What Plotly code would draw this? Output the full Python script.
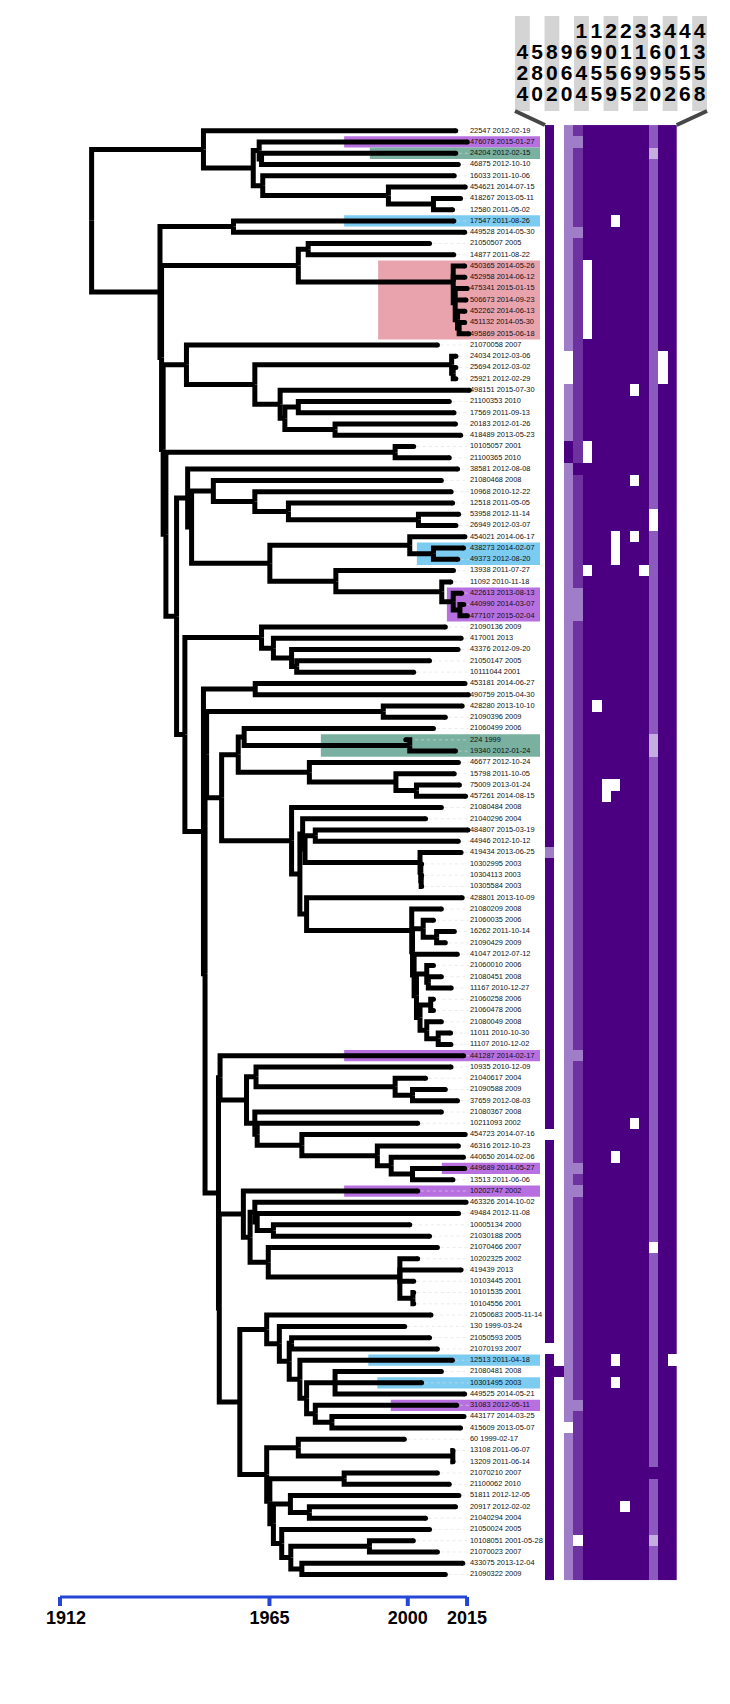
import plotly.graph_objects as go
import datetime

# ---------------- data ----------------
LEAF_LABELS = [
    "22547 2012-02-19", "476078 2015-01-27", "24204 2012-02-15", "46875 2012-10-10",
    "16033 2011-10-06", "454621 2014-07-15", "418267 2013-05-11", "12580 2011-05-02",
    "17547 2011-08-26", "449528 2014-05-30", "21050507 2005", "14877 2011-08-22",
    "450365 2014-05-26", "452958 2014-06-12", "475341 2015-01-15", "506673 2014-09-23",
    "452262 2014-06-13", "451132 2014-05-30", "495869 2015-06-18", "21070058 2007",
    "24034 2012-03-06", "25694 2012-03-02", "25921 2012-02-29", "498151 2015-07-30",
    "21100353 2010", "17569 2011-09-13", "20183 2012-01-26", "418489 2013-05-23",
    "10105057 2001", "21100365 2010", "38581 2012-08-08", "21080468 2008",
    "10968 2010-12-22", "12518 2011-05-05", "53958 2012-11-14", "26949 2012-03-07",
    "454021 2014-06-17", "438273 2014-02-07", "49373 2012-08-20", "13938 2011-07-27",
    "11092 2010-11-18", "422613 2013-08-13", "440990 2014-03-07", "477107 2015-02-04",
    "21090136 2009", "417001 2013", "43376 2012-09-20", "21050147 2005",
    "10111044 2001", "453181 2014-06-27", "490759 2015-04-30", "428280 2013-10-10",
    "21090396 2009", "21060499 2006", "224 1999", "19340 2012-01-24",
    "46677 2012-10-24", "15798 2011-10-05", "75009 2013-01-24", "457261 2014-08-15",
    "21080484 2008", "21040296 2004", "484807 2015-03-19", "44946 2012-10-12",
    "419434 2013-06-25", "10302995 2003", "10304113 2003", "10305584 2003",
    "428801 2013-10-09", "21080209 2008", "21060035 2006", "16262 2011-10-14",
    "21090429 2009", "41047 2012-07-12", "21060010 2006", "21080451 2008",
    "11167 2010-12-27", "21060258 2006", "21060478 2006", "21080049 2008",
    "11011 2010-10-30", "11107 2010-12-02", "441287 2014-02-17", "10935 2010-12-09",
    "21040617 2004", "21090588 2009", "37659 2012-08-03", "21080367 2008",
    "10211093 2002", "454723 2014-07-16", "46316 2012-10-23", "440650 2014-02-06",
    "449689 2014-05-27", "13513 2011-06-06", "10202747 2002", "463326 2014-10-02",
    "49484 2012-11-08", "10005134 2000", "21030188 2005", "21070466 2007",
    "10202325 2002", "419439 2013", "10103445 2001", "10101535 2001",
    "10104556 2001", "21050683 2005-11-14", "130 1999-03-24", "21050593 2005",
    "21070193 2007", "12513 2011-04-18", "21080481 2008", "10301495 2003",
    "449525 2014-05-21", "31083 2012-05-11", "443177 2014-03-25", "415609 2013-05-07",
    "60 1999-02-17", "13108 2011-06-07", "13209 2011-06-14", "21070210 2007",
    "21100062 2010", "51811 2012-12-05", "20917 2012-02-02", "21040294 2004",
    "21050024 2005", "10108051 2001-05-28", "21070023 2007", "433075 2013-12-04",
    "21090322 2009",
]

# time tree: leaves by sample id, internal nodes labelled with their date (years)
TREE_NEWICK = (
    "("
    "(22547,((476078,(24204,46875)1963.0)1962.4,(16033,(454621,(418267,12580)2006.5)1995.1)1963.3)1960.9)1948.3,"
    "((17547,449528)1955.9,"
    "(((21050507,14877)1974.8,(450365,452958,(475341,506673,(452262,(451132,495869)2013.0)2012.6)2012.0)2011.5)1972.3,"
    "((21070058,((24034,(25694,25921)2011.5)2011.1,(498151,((21100353,17569)1972.3,(20183,418489)1981.6)1968.9)1967.7)1961.3)1944.0,"
    "((10105057,21100365)1996.8,"
    "("
    "(38581,((21080468,(10968,(12518,(53958,26949)2002.7)1969.8)1961.3)1950.8,"
    "((454021,(438273,49373)2006.5)2000.5,(13938,(11092,(422613,(440990,477107)2013.2)2011.5)2008.6)1981.8)1965.1)1945.3)1944.3,"
    "((21090136,(417001,(43376,(21050147,10111044)1971.9)1970.6)1966.0)1963.0,"
    "((453181,490759)1961.4,"
    "(((428280,21090396)1993.8,"
    "(((21060499,(224,19340)2000.5)1958.6,(46677,(15798,(75009,457261)2002.2)1997.0)1975.1)1957.1,"
    "(21080484,((21040296,((484807,44946)1976.6,(419434,(10302995,(10304113,10305584)2003.4)2003.3)2003.1)1974.0)1973.4,"
    "(428801,(21080209,((21060035,(16262,21090429)2007.3)2003.9,"
    "(41047,((21060010,(21080451,11167)2005.2)2004.8,((21060258,21060478)2005.8,(21080049,(11011,11107)2007.7)2004.8)2003.1)2002.2)2001.6)2001.2)2001.0)1974.4)1972.7)1970.6)1952.9)1949.1,"
    "((441287,((10935,(21040617,(21090588,37659)2001.2)1996.8)1961.6,"
    "(21080367,(10211093,(454723,(46316,(440650,(449689,13513)2001.2)1995.8)1992.3)1973.2)1961.9)1961.3)1959.2)1952.5,"
    "((10202747,((463326,(49484,(10005134,21030188)1966.0)1961.9)1961.3,(21070466,(10202325,419439,10103445,(10101535,10104556)2001.3)1998.0)1964.7)1960.1)1958.4,"
    "((21050683,(130,((21050593,21070193)1970.6,(12513,((21080481,10301495,449525)1981.6,(31083,(443177,415609)1980.8)1976.6)1974.4)1972.7)1970.0)1967.5)1964.3,"
    "((60,(13108,13209)2011.4)1972.3,((21070210,21100062)1983.9,((51811,(20917,21040294)1975.1)1970.3,"
    "(21050024,((10108051,21070023)1990.3,(433075,21090322)1973.2)1970.4)1968.1)1966.0)1965.1)1964.3)1957.5)1952.3)1952.1"
    ")1948.7)1948.3)1943.6)1941.5)1938.8)1938.1)1937.7)1937.3"
    ")1920.0"
)

HIGHLIGHTS = [  # (leaf ids, start year, colour key)
    (["476078"], 1983.9, "purple"),
    (["24204"], 1990.4, "green"),
    (["17547"], 1983.9, "blue"),
    (["450365", "452958", "475341", "506673", "452262", "451132", "495869"], 1992.5, "pink"),
    (["438273", "49373"], 2002.3, "blue"),
    (["422613", "440990", "477107"], 2009.9, "purple"),
    (["224", "19340"], 1978.0, "green"),
    (["441287"], 1983.9, "purple"),
    (["449689"], 2008.6, "purple"),
    (["10202747"], 1983.9, "purple"),
    (["12513"], 1990.0, "blue"),
    (["10301495"], 1992.3, "blue"),
    (["31083"], 1995.7, "purple"),
]
HIGHLIGHT_COLORS = {"purple": "#b870e0", "green": "#79b0a0", "blue": "#7ccbf0", "pink": "#e9a3ad"}

HEADER_LABELS = ["424", "580", "802", "960", "1644", "1955", "2059", "2165",
                 "3192", "3690", "4052", "4156", "4358"]
AXIS_YEARS = [1912, 1965, 2000, 2015]

# heatmap levels: 0 missing, 1 very light, 2 light, 3 lavender, 4 medium, 5 dark
LEVEL_COLORS = ["#ffffff", "#c4aee0", "#a07dc8", "#8c5abe", "#6e32a0", "#4b0082"]
COLUMN_DEFAULTS = [5, 0, 2, 4, 5, 5, 5, 5, 5, 5, 5, 3, 5, 5]
CELL_OVERRIDES = [  # (row, column, level)
    (1, 3, 2), (2, 11, 1), (8, 7, 0), (9, 3, 2),
    (12, 4, 0), (13, 4, 0), (14, 4, 0), (15, 4, 0), (16, 4, 0), (17, 4, 0), (18, 4, 0),
    (20, 2, 0), (21, 2, 0), (22, 2, 0), (20, 12, 0), (21, 12, 0), (22, 12, 0),
    (23, 9, 0), (28, 2, 5), (29, 2, 5), (28, 4, 0), (29, 4, 0), (30, 3, 5), (31, 9, 0),
    (34, 11, 0), (35, 11, 0), (36, 7, 0), (36, 9, 0), (37, 7, 0), (38, 7, 0),
    (39, 4, 0), (39, 10, 0), (41, 3, 2), (42, 3, 2), (43, 3, 2), (51, 5, 0),
    (54, 11, 1), (55, 11, 1), (58, 6, 0), (58, 7, 0), (59, 6, 0), (64, 0, 2),
    (82, 3, 2), (88, 9, 0), (89, 0, 0), (91, 7, 0), (92, 3, 2), (94, 3, 2),
    (99, 11, 0), (108, 0, 0), (109, 7, 0), (109, 13, 0), (110, 1, 5), (111, 7, 0),
    (113, 3, 2), (115, 2, 0), (119, 11, 5), (122, 8, 0), (125, 3, 0), (125, 11, 1),
]

# ---------------- geometry helpers (screen pixel <-> data) ----------------
SCREEN_W, SCREEN_H = 730, 1704
PAGE_OFF = 8                      # default page margin around the plot div
W, H = SCREEN_W - 2 * PAGE_OFF, SCREEN_H - 2 * PAGE_OFF
X0_PX, YEAR0, PX_PER_YEAR = 60.0, 1912.0, 3.952
ROW0_PX, PX_PER_ROW = 130.7, 11.28


def px2x(px):
    return YEAR0 + (px - X0_PX) / PX_PER_YEAR


def py2y(py):
    return (py - ROW0_PX) / PX_PER_ROW


def tip_year(label):
    d = label.split()[1]
    if len(d) == 4:
        return int(d) + 0.5
    dt = datetime.date.fromisoformat(d)
    start = datetime.date(dt.year, 1, 1)
    return dt.year + ((dt - start).days + 0.5) / 365.0


def parse_newick(s):
    s = s.replace(" ", "")
    pos = 0

    def node():
        nonlocal pos
        if s[pos] == "(":
            pos += 1
            kids = [node()]
            while s[pos] == ",":
                pos += 1
                kids.append(node())
            pos += 1
            st = pos
            while pos < len(s) and s[pos] not in ",()":
                pos += 1
            return {"t": float(s[st:pos]), "kids": kids}
        st = pos
        while s[pos] not in ",()":
            pos += 1
        return {"id": s[st:pos], "kids": []}

    return node()


leaf_row = {lab.split()[0]: i for i, lab in enumerate(LEAF_LABELS)}
root = parse_newick(TREE_NEWICK)


def layout(n):
    if not n["kids"]:
        n["y"] = leaf_row[n["id"]]
        n["t"] = tip_year(LEAF_LABELS[n["y"]])
    else:
        for k in n["kids"]:
            layout(k)
        n["y"] = sum(k["y"] for k in n["kids"]) / len(n["kids"])


layout(root)

tree_x, tree_y, tips_x, tips_y = [], [], [], []


def collect(n):
    for k in n["kids"]:
        tree_x.extend([n["t"], n["t"], k["t"], None])
        tree_y.extend([n["y"], k["y"], k["y"], None])
        collect(k)
    if not n["kids"]:
        tips_x.append(n["t"])
        tips_y.append(n["y"])


collect(root)

fig = go.Figure()
shapes = []

# highlight bands
label_px = 470
for ids, start, ckey in HIGHLIGHTS:
    rows = [leaf_row[i] for i in ids]
    shapes.append(dict(type="rect", xref="x", yref="y", layer="below",
                       x0=start, x1=px2x(540), y0=min(rows) - 0.5, y1=max(rows) + 0.5,
                       fillcolor=HIGHLIGHT_COLORS[ckey], line=dict(width=0)))

# faint dotted leaders
lx, ly = [], []
for tx, ty in zip(tips_x, tips_y):
    lx.extend([tx + 0.8, px2x(label_px - 1), None])
    ly.extend([ty, ty, None])
fig.add_trace(go.Scatter(x=lx, y=ly, mode="lines",
                         line=dict(color="#dedede", width=0.6, dash="dot"), hoverinfo="skip"))

# tree
fig.add_trace(go.Scatter(x=tree_x, y=tree_y, mode="lines",
                         line=dict(color="black", width=5), hoverinfo="skip"))
fig.add_trace(go.Scatter(x=tips_x, y=tips_y, mode="markers",
                         marker=dict(color="black", size=5, line=dict(width=0)), hoverinfo="skip"))

# leaf labels
fig.add_trace(go.Scatter(x=[px2x(label_px)] * len(LEAF_LABELS), y=list(range(len(LEAF_LABELS))),
                         mode="text", text=LEAF_LABELS, textposition="middle right",
                         textfont=dict(family="Liberation Sans, Arial, sans-serif", size=7.4, color="#111111"),
                         hoverinfo="skip"))

# heatmap
ncol = len(COLUMN_DEFAULTS)
Z = [list(COLUMN_DEFAULTS) for _ in LEAF_LABELS]
for r, c, v in CELL_OVERRIDES:
    Z[r][c] = v
nlev = len(LEVEL_COLORS)
cscale = []
for i, c in enumerate(LEVEL_COLORS):
    cscale.append([i / nlev, c])
    cscale.append([(i + 1) / nlev, c])
fig.add_trace(go.Heatmap(z=Z, x=list(range(ncol)), y=list(range(len(LEAF_LABELS))),
                         xaxis="x2", yaxis="y", colorscale=cscale, zmin=-0.5, zmax=nlev - 0.5,
                         showscale=False, hoverinfo="skip", xgap=0, ygap=0))

# header
HDR_L, HDR_R = 515.0, 707.0
cw = (HDR_R - HDR_L) / len(HEADER_LABELS)
digit_rows_px = [33, 54, 75, 96]
hx, hy, ht = [], [], []
for i, lab in enumerate(HEADER_LABELS):
    if i % 2 == 0:
        shapes.append(dict(type="rect", xref="x", yref="y", layer="below",
                           x0=px2x(HDR_L + i * cw), x1=px2x(HDR_L + (i + 1) * cw),
                           y0=py2y(16), y1=py2y(111), fillcolor="#d4d4d4", line=dict(width=0)))
    n = len(lab)
    for j, ch in enumerate(lab):
        hx.append(px2x(HDR_L + (i + 0.5) * cw))
        hy.append(py2y(digit_rows_px[4 - n + j]))
        ht.append(ch)
fig.add_trace(go.Scatter(x=hx, y=hy, mode="text", text=ht, textposition="middle center",
                         textfont=dict(family="Liberation Sans, Arial, sans-serif", size=21,
                                       color="black", weight="bold"), hoverinfo="skip"))
HM_L, HM_R = 545.0, 676.7
for (ax, ay, bx, by) in [(HDR_L, 111, HM_L, 125), (HDR_R, 111, HM_R, 125)]:
    shapes.append(dict(type="line", xref="x", yref="y", x0=px2x(ax), y0=py2y(ay),
                       x1=px2x(bx), y1=py2y(by), line=dict(color="#464646", width=4)))

# time axis
AXIS_PY = 1597
axis_col = "#2446d8"
shapes.append(dict(type="line", xref="x", yref="y", x0=AXIS_YEARS[0], x1=AXIS_YEARS[-1],
                   y0=py2y(AXIS_PY), y1=py2y(AXIS_PY), line=dict(color=axis_col, width=3)))
for yr in AXIS_YEARS:
    shapes.append(dict(type="line", xref="x", yref="y", x0=yr, x1=yr,
                       y0=py2y(AXIS_PY), y1=py2y(AXIS_PY + 9), line=dict(color=axis_col, width=4)))
lab_x = [max(yr, px2x(66)) for yr in AXIS_YEARS]
fig.add_trace(go.Scatter(x=lab_x, y=[py2y(1619)] * len(AXIS_YEARS), mode="text",
                         text=[str(y) for y in AXIS_YEARS], textposition="middle center",
                         textfont=dict(family="Liberation Sans, Arial, sans-serif", size=18,
                                       color="black", weight="bold"), hoverinfo="skip"))

fig.update_layout(
    width=W, height=H, autosize=False,
    margin=dict(l=0, r=0, t=0, b=0, pad=0),
    paper_bgcolor="white", plot_bgcolor="rgba(0,0,0,0)", showlegend=False,
    shapes=shapes,
    xaxis=dict(range=[px2x(PAGE_OFF), px2x(PAGE_OFF + W)], visible=False, domain=[0, 1]),
    xaxis2=dict(range=[-0.5, ncol - 0.5], visible=False,
                domain=[(HM_L - PAGE_OFF) / W, (HM_R - PAGE_OFF) / W], anchor="y"),
    yaxis=dict(range=[py2y(PAGE_OFF + H), py2y(PAGE_OFF)], visible=False, domain=[0, 1]),
)

fig.write_html("out.html")
